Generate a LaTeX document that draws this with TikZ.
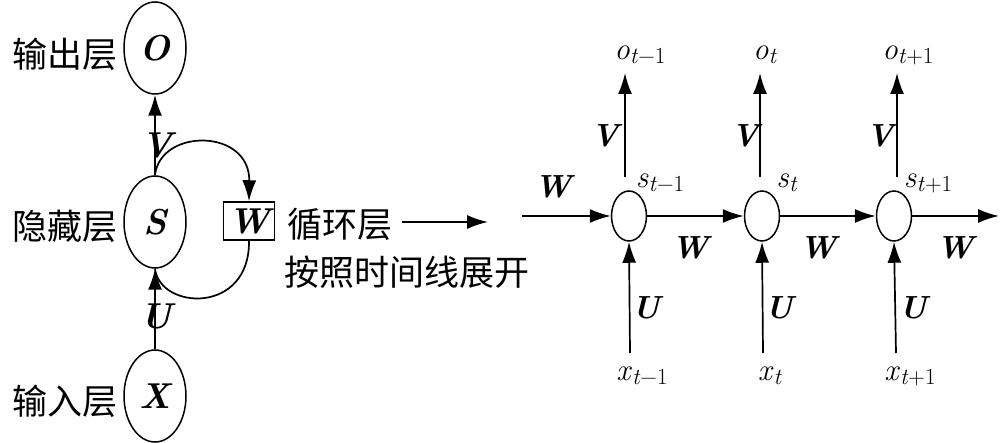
\documentclass[tikz,border=0pt]{standalone}
\usepackage{fontspec}
\newfontfamily\cjk{Noto Sans CJK SC}
\usetikzlibrary{shapes.geometric,arrows.meta}
\newcommand{\subl}[2]{\textit{#1}\raisebox{-0.3ex}{\fontsize{23}{23}\selectfont\textit{t}#2}}
\begin{document}
\begin{tikzpicture}[x=1pt,y=-1pt,
  bigell/.style={draw,ellipse,line width=1.5pt,minimum width=62pt,minimum height=92pt,inner sep=0pt,font=\fontsize{36}{36}\selectfont\bfseries\itshape},
  smell/.style={draw,ellipse,line width=1.5pt,minimum width=35pt,minimum height=50pt,inner sep=0pt},
  cn/.style={font=\fontsize{35}{35}\selectfont\cjk,inner sep=0pt},
  big/.style={font=\fontsize{36}{36}\selectfont\bfseries\itshape,inner sep=0pt},
  mid/.style={font=\fontsize{32}{32}\selectfont\bfseries\itshape,inner sep=0pt},
  var/.style={font=\fontsize{31}{31}\selectfont,inner sep=0pt},
  arr/.style={line width=1.7pt,-{Latex[length=21pt,width=14pt]}},
  ln/.style={line width=1.7pt}]
\useasboundingbox (0,0) rectangle (1000,443);
% left part
\node[bigell] (O) at (155,48) {O};
\node[bigell] (S) at (155,222) {S};
\node[bigell] (X) at (155,396) {X};
\node[cn,anchor=east] (lo) at (118,54) {输出层};
\node[cn,anchor=east] (ls) at (118,226) {隐藏层};
\node[cn,anchor=east] (lx) at (118,401) {输入层};
\node[draw,line width=1.5pt,minimum width=51pt,minimum height=38pt,inner sep=0pt,big] (Wb) at (249,221) {W};
\draw[arr] (S.north) -- (O.south);
\draw[arr] (X.north) -- (S.south);
\node[big] (lV) at (157,145) {V};
\node[big] (lU) at (156,316) {U};
\draw[arr] (S.north) .. controls (160,128) and (250,128) .. (Wb.north);
\draw[ln] (Wb.south) .. controls (250,315) and (160,310) .. (S.south);
\node[cn,anchor=west] (lr) at (287,224) {循环层};
\coordinate (a1) at (402,222);
\coordinate (a2) at (488,222);
\draw[arr] (a1) -- (a2);
\node[cn] (lt) at (407,272) {按照时间线展开};
% right part
\node[smell] (s1) at (629,216) {};
\node[smell] (s2) at (762,216) {};
\node[smell] (s3) at (894,216) {};
\coordinate (in) at (522,216);
\coordinate (outr) at (999,216);
\draw[arr] (in) -- (s1);
\draw[arr] (s1) -- (s2);
\draw[arr] (s2) -- (s3);
\draw[arr] (s3) -- (outr);
\node[mid] (w0) at (553,187) {W};
\node[mid] (w1) at (690,248) {W};
\node[mid] (w2) at (818,248) {W};
\node[mid] (w3) at (955,248) {W};
\node[var] (o1) at (640,55) {\subl{o}{−1}};
\node[var] (o2) at (765,55) {\subl{o}{}};
\node[var] (o3) at (908,55) {\subl{o}{+1}};
\node[var] (x1) at (642,376) {\subl{x}{−1}};
\node[var] (x2) at (770,376) {\subl{x}{}};
\node[var] (x3) at (910,376) {\subl{x}{+1}};
\node[var] (sl1) at (660,183) {\subl{s}{−1}};
\node[var] (sl2) at (787,183) {\subl{s}{}};
\node[var] (sl3) at (928,183) {\subl{s}{+1}};
\coordinate (v1) at (625,177);
\coordinate (v2) at (760,177);
\coordinate (v3) at (897,177);
\draw[arr] (v1) -- (625,73);
\draw[arr] (v2) -- (760,73);
\draw[arr] (v3) -- (897,73);
\coordinate (u1) at (630,353);
\coordinate (u2) at (763,353);
\coordinate (u3) at (896,353);
\draw[arr] (u1) -- (s1.south);
\draw[arr] (u2) -- (s2.south);
\draw[arr] (u3) -- (s3.south);
\node[mid] (vl1) at (605,136) {V};
\node[mid] (vl2) at (745,136) {V};
\node[mid] (vl3) at (880,136) {V};
\node[mid] (ul1) at (646,308) {U};
\node[mid] (ul2) at (779,308) {U};
\node[mid] (ul3) at (913,308) {U};
\end{tikzpicture}
\end{document}
